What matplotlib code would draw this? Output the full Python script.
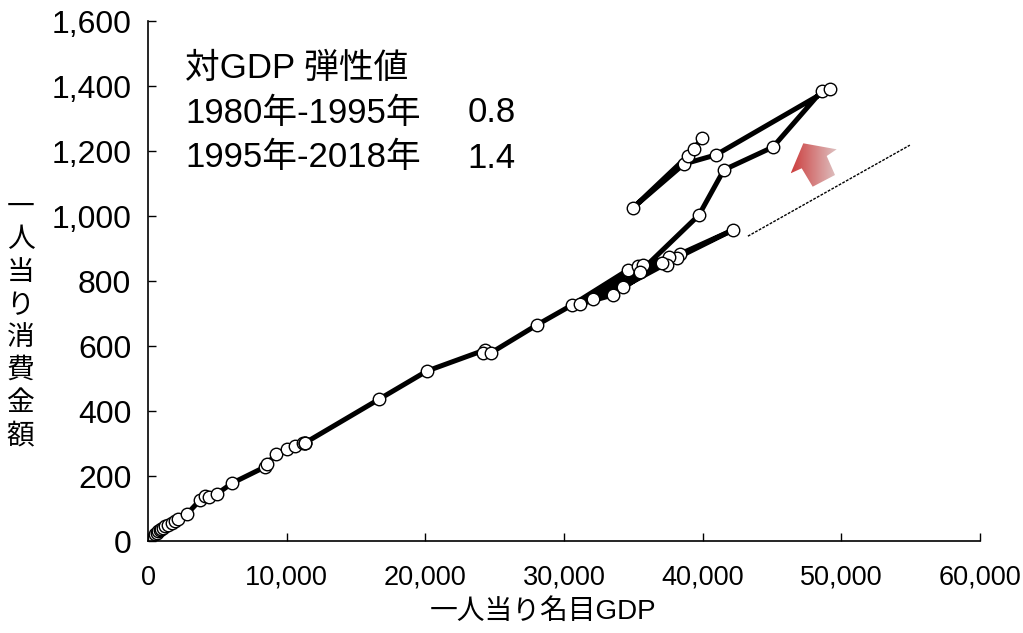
import numpy as np
import matplotlib
matplotlib.use('Agg')
import matplotlib.pyplot as plt
from matplotlib.patches import Polygon
from matplotlib.ticker import FuncFormatter

plt.rcParams['font.family'] = ['Liberation Sans', 'Noto Sans CJK JP', 'DejaVu Sans']

# 年ごとの一人当り名目GDP と 一人当り消費金額 (1960-2018, 図から読み取り)
years = list(range(1960, 2019))
gdp = [500, 620, 720, 830, 950, 1070, 1250, 1450, 1700, 1950,
       2160, 2810, 3750, 4110, 4400, 4970, 6060, 8440, 8580, 9230,
       10020, 10600, 11170, 11320, 11320, 11320, 16650, 20110, 24300, 24150,
       24730, 28050, 30570, 34610, 38360, 42180, 38140, 34250, 32080, 35470,
       37560, 33530, 31150, 35330, 37420, 37060, 35690, 35470, 39730, 41530,
       45060, 48590, 49170, 40950, 38645, 34970, 38930, 39370, 39940]
consumption = [22, 26, 30, 33, 37, 40, 45, 50, 56, 62,
               68, 83, 126, 138, 135, 145, 178, 228, 237, 268,
               283, 292, 302, 302, 302, 302, 436, 523, 588, 579,
               579, 665, 726, 834, 883, 957, 871, 782, 745, 828,
               874, 757, 729, 846, 849, 855, 849, 828, 1003, 1142,
               1212, 1385, 1391, 1188, 1160, 1025, 1185, 1206, 1240]

# 参考トレンド線 (点線)
trend_x = [43260, 54940]
trend_y = [938, 1218]

note_lines = ['対GDP 弾性値', '1980年-1995年', '1995年-2018年']
note_values = ['', '0.8', '1.4']

fig = plt.figure(figsize=(10.23, 6.33), dpi=100)
ax = fig.add_axes([0.1447, 0.1453, 0.8133, 0.8215])

ax.plot(gdp, consumption, color='black', lw=3.6, solid_joinstyle='round',
        marker='o', markersize=9, markerfacecolor='white',
        markeredgecolor='black', markeredgewidth=1.0, zorder=3)
ax.plot(trend_x, trend_y, color='black', lw=1.0, linestyle=(0, (2, 1)), zorder=2)

ax.set_xlim(0, 60000)
ax.set_ylim(0, 1600)
ax.set_xticks(np.arange(0, 60001, 10000))
ax.set_yticks(np.arange(0, 1601, 200))
ax.xaxis.set_major_formatter(FuncFormatter(lambda v, p: f'{v:,.0f}'))
ax.yaxis.set_major_formatter(FuncFormatter(lambda v, p: f'{v:,.0f}'))
ax.tick_params(direction='in', length=6, width=1)
ax.tick_params(axis='x', labelsize=19.5, pad=17)
ax.tick_params(axis='y', labelsize=23, pad=12)
for s in ['top', 'right']:
    ax.spines[s].set_visible(False)
for s in ['left', 'bottom']:
    ax.spines[s].set_linewidth(1.2)

fig.text(543 / 1023, 1 - 612 / 633, '一人当り名目GDP', fontsize=20,
         ha='center', va='center')
fig.text(0.02, 1 - 322 / 633, '\n'.join('一人当り消費金額'), fontsize=20,
         ha='center', va='center', linespacing=1.33)

# 弾性値の注記
for i, (t, v) in enumerate(zip(note_lines, note_values)):
    yy = 1 - (68 + i * 45) / 633
    fig.text(0.181, yy, t, fontsize=25, va='center', ha='left')
    if v:
        fig.text(0.457, yy, v, fontsize=25, va='center', ha='left')

# グラデーションの矢印 (右上方向)
W, H = 1023, 633
arrow_px = [(803.3, 143.3), (836.7, 149.3), (826.7, 156), (835, 175),
            (812.7, 186.7), (801.7, 168.3), (790.7, 173.3)]
arrow_fig = [(x / W, 1 - y / H) for x, y in arrow_px]
xs = [p[0] for p in arrow_fig]
ys = [p[1] for p in arrow_fig]
grad = np.linspace(0, 1, 256).reshape(1, -1)
c0 = np.array([0.80, 0.24, 0.24])
c1 = np.array([0.87, 0.76, 0.76])
img = c0[None, None, :] * (1 - grad[..., None]) + c1[None, None, :] * grad[..., None]
gax = fig.add_axes([0, 0, 1, 1], zorder=5)
gax.set_xlim(0, 1)
gax.set_ylim(0, 1)
gax.axis('off')
gax.patch.set_alpha(0)
im = gax.imshow(img, extent=[min(xs), max(xs), min(ys), max(ys)],
                aspect='auto', origin='lower', interpolation='bilinear')
poly = Polygon(arrow_fig, closed=True, transform=gax.transData,
               facecolor='none', edgecolor='none')
gax.add_patch(poly)
im.set_clip_path(poly)

fig.savefig('out.png', dpi=100)
